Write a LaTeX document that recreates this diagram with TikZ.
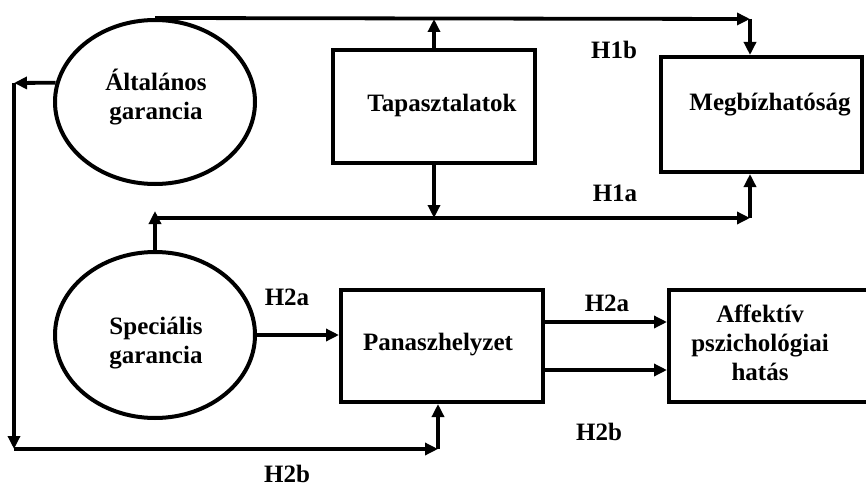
\documentclass[tikz,border=0pt]{standalone}
\usepackage{fontspec}
\setmainfont{Liberation Serif}
\usetikzlibrary{arrows.meta,shapes.geometric}
\begin{document}
\begin{tikzpicture}[x=1pt,y=-1pt,
  every node/.style={font=\fontsize{25}{29}\selectfont\bfseries},
  ell/.style={draw,ellipse,line width=4pt,inner sep=0pt},
  boxn/.style={draw,rectangle,line width=4pt,inner sep=0pt},
  arr/.style={line width=3.8pt,-{Triangle[length=13pt,width=12pt]}},
  lab/.style={inner sep=0pt,align=center}]
\useasboundingbox (0,0) rectangle (866,489);
% shapes
\node[ell,minimum width=200pt,minimum height=164pt] (gen) at (155,102) {};
\node[ell,minimum width=200pt,minimum height=166pt] (spec) at (155,335) {};
\node[boxn,minimum width=202pt,minimum height=113pt] (tap) at (434,106.5) {};
\node[boxn,minimum width=201pt,minimum height=115pt] (meg) at (761.5,114.5) {};
\node[boxn,minimum width=202pt,minimum height=112pt] (pan) at (442,346) {};
\node[boxn,minimum width=211pt,minimum height=112pt] (aff) at (774.5,346) {};
% texts
\node[lab] (gent) at (156,97) {Általános\\garancia};
\node[lab] (spect) at (156,343) {Speciális\\garancia};
\node[lab] (tapt) at (442,105) {Tapasztalatok};
\node[lab] (megt) at (770,105) {Megbízhatóság};
\node[lab] (pant) at (438,345) {Panaszhelyzet};
\node[lab] (afft) at (760,343) {Affektív\\pszichológiai\\hatás};
% coordinates
\coordinate (c1) at (750,19);
\coordinate (c2) at (750,218);
\coordinate (c3) at (152,211);
\coordinate (c5) at (14,83);
\coordinate (c6) at (14,449);
\coordinate (c7) at (438,449);
% connectors
\draw[arr] (gen.north) -- (c1);
\draw[arr] (c1) -- (c1 |- meg.north);
\draw[arr] (tap.north) -- (tap.north |- c1);
\draw[arr] (tap.south) -- (tap.south |- c2);
\draw[arr] (spec.north) -- (spec.north |- c3);
\draw[arr] (spec.north |- c2) -- (c2);
\draw[arr] (c2) -- (c2 |- meg.south);
\draw[arr] (gen.169) -- (c5);
\draw[arr] (c5) -- (c6);
\draw[arr] (c6) -- (c7);
\draw[arr] (c7) -- (c7 |- pan.south);
\draw[arr] (spec.east) -- (spec.east -| pan.west);
\draw[arr] ([yshift=24pt]pan.east) -- ([yshift=24pt]aff.west);
\draw[arr] ([yshift=-24pt]pan.east) -- ([yshift=-24pt]aff.west);
% labels
\node[lab] (h1b) at (614,50) {H1b};
\node[lab] (h1a) at (615,193) {H1a};
\node[lab] (h2a1) at (287,297) {H2a};
\node[lab] (h2a2) at (607,303) {H2a};
\node[lab] (h2b1) at (599,432) {H2b};
\node[lab] (h2b2) at (287,474) {H2b};
\end{tikzpicture}
\end{document}
